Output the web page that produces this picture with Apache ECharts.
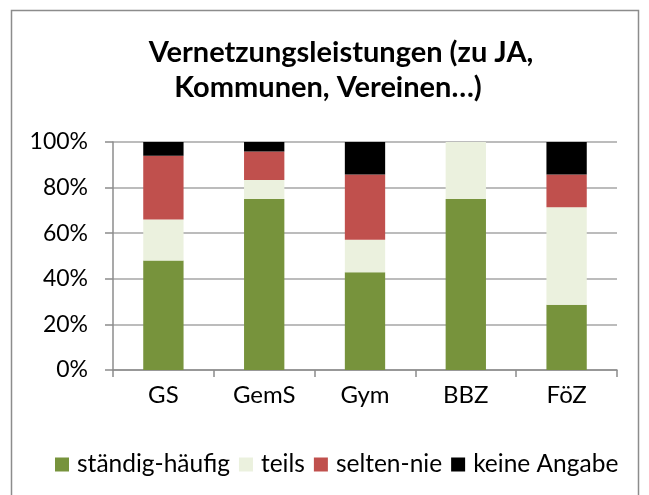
<!DOCTYPE html>
<html>
<head>
<meta charset="utf-8">
<script src="https://cdn.jsdelivr.net/npm/echarts@6/dist/echarts.min.js"></script>
<style>
  html, body { margin: 0; padding: 0; background: #ffffff; }
  #chart { width: 649px; height: 495px; }
</style>
</head>
<body>
<div id="chart"></div>
<script>
// Schulformen
const categories = ['GS', 'GemS', 'Gym', 'BBZ', 'FöZ'];
// Anteile in Prozent je Antwortkategorie
const staendigHaeufig = [48, 75, 42.86, 75, 28.57];
const teils = [18, 8.33, 14.29, 25, 42.86];
const seltenNie = [28, 12.5, 28.57, 0, 14.29];
const keineAngabe = [6, 4.17, 14.29, 0, 14.29];
const yTicks = [0, 20, 40, 60, 80, 100];
const titleLines = ['Vernetzungsleistungen (zu JA,', 'Kommunen, Vereinen…)'];

const FONT = 'Lato';
const chart = echarts.init(document.getElementById('chart'), null, { renderer: 'canvas' });

function series(name, data, color) {
  return {
    name: name,
    type: 'bar',
    stack: 'total',
    data: data,
    barWidth: '40%',
    itemStyle: { color: color },
    emphasis: { disabled: true }
  };
}

const titleStyle = { fontFamily: FONT, fontSize: 29, fontWeight: 'bold', color: '#000000' };

chart.setOption({
  animation: false,
  backgroundColor: '#ffffff',
  textStyle: { fontFamily: FONT },
  graphic: [{
    type: 'rect',
    shape: { x: 11.5, y: 10.5, width: 627, height: 490 },
    style: { fill: 'none', stroke: '#8c8c8c', lineWidth: 1.5 },
    silent: true
  }],
  title: [
    { text: titleLines[0], left: 336, top: 33, textAlign: 'center', textStyle: titleStyle },
    { text: titleLines[1], left: 323, top: 68, textAlign: 'center', textStyle: titleStyle }
  ],
  legend: {
    top: 447,
    left: 50,
    itemWidth: 14,
    itemHeight: 14,
    itemGap: 9,
    icon: 'rect',
    textStyle: { fontFamily: FONT, fontSize: 24.5, color: '#000000', padding: [0, 0, 0, 3] },
    data: ['ständig-häufig', 'teils', 'selten-nie', 'keine Angabe']
  },
  grid: { left: 113, right: 32, top: 142, bottom: 125, containLabel: false },
  xAxis: {
    type: 'category',
    data: categories,
    axisLine: { lineStyle: { color: '#8c8c8c', width: 1.5 } },
    axisTick: { show: true, alignWithLabel: false, length: 7, lineStyle: { color: '#8c8c8c', width: 1.5 } },
    axisLabel: { fontFamily: FONT, fontSize: 24, color: '#000000', margin: 13 }
  },
  yAxis: {
    type: 'value',
    min: 0,
    max: 100,
    interval: 20,
    axisLine: { show: true, lineStyle: { color: '#8c8c8c', width: 1.5 } },
    axisTick: { show: true, length: 8, lineStyle: { color: '#8c8c8c', width: 1.5 } },
    splitLine: { lineStyle: { color: '#a6a6a6', width: 1.5 } },
    axisLabel: {
      fontFamily: FONT, fontSize: 23, color: '#000000', margin: 25,
      formatter: v => (yTicks.indexOf(v) >= 0 ? v + '%' : '')
    }
  },
  series: [
    series('ständig-häufig', staendigHaeufig, '#77933c'),
    series('teils', teils, '#ebf1de'),
    series('selten-nie', seltenNie, '#c0504d'),
    series('keine Angabe', keineAngabe, '#000000')
  ]
});
</script>
</body>
</html>
